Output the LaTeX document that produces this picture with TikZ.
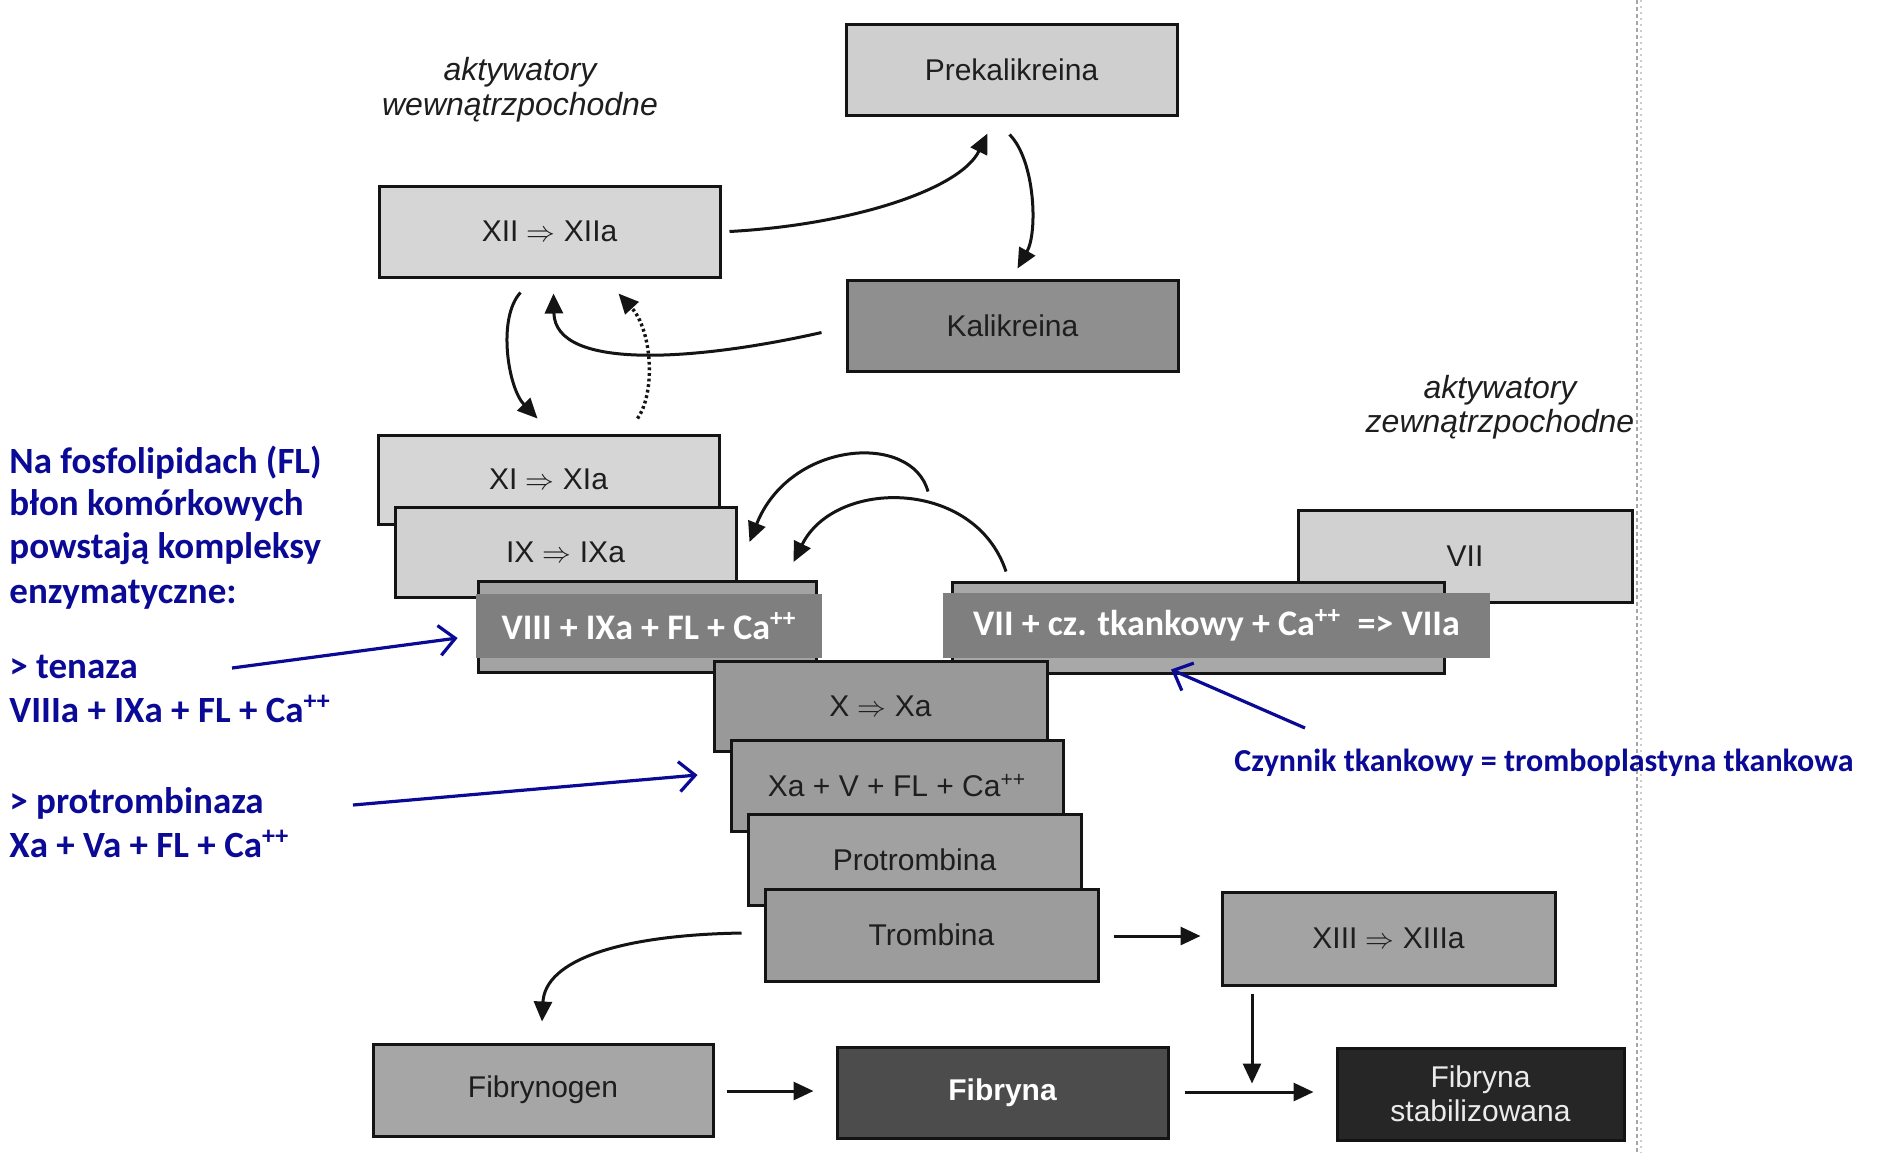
\documentclass[tikz,border=0pt]{standalone}
\usepackage{fontspec}
\setmainfont{Liberation Sans}
\newfontfamily\calibri{Carlito}
\usetikzlibrary{arrows.meta,calc}
\definecolor{navy}{RGB}{10,10,150}
\definecolor{ovgray}{RGB}{127,127,127}
\definecolor{inktext}{RGB}{30,30,30}
\begin{document}
\begin{tikzpicture}[x=0.5pt,y=-0.5pt,
  dim/.style 2 args={minimum width=#1*0.5pt, minimum height=#2*0.5pt},
  box/.style={draw=black!92, line width=1.5pt, inner sep=0pt, text=inktext,
              font=\fontsize{15pt}{18pt}\selectfont},
  ovl/.style={fill=ovgray, inner sep=0pt, text=white,
              font=\calibri\bfseries\fontsize{18pt}{21pt}\selectfont},
  itlabel/.style={anchor=base, inner sep=0pt, text=inktext,
              font=\itshape\fontsize{16pt}{19pt}\selectfont},
  btxt/.style={anchor=base west, inner sep=0pt, text=navy,
              font=\calibri\bfseries\fontsize{18.5pt}{22pt}\selectfont},
  arr/.style={draw=black!92, line width=1.5pt, -{Triangle[length=10pt,width=9pt]}},
  dotarr/.style={arr, line width=1.7pt, dash pattern=on 1.4pt off 1.4pt},
  barr/.style={draw=navy, line width=1.6pt, -{Straight Barb[length=8pt,width=15pt]}}]

\useasboundingbox (0,0) rectangle (1883,1153);
\fill[white] (0,0) rectangle (1883,1153);

% edge of the scanned sheet
\draw[black!35, line width=1.2pt, dash pattern=on 2pt off 1.5pt] (1637,0) -- (1637,1153);
\draw[black!20, line width=0.8pt, dash pattern=on 1pt off 2pt] (1641,0) -- (1641,1153);

% side labels
\node[itlabel] (intA) at (520,80) {aktywatory};
\node[itlabel] (intB) at (520,115) {wewnątrzpochodne};
\node[itlabel] (extA) at (1500,398) {aktywatory};
\node[itlabel] (extB) at (1500,432) {zewnątrzpochodne};

% contact pathway
\node[box, dim={331}{91}, fill=black!19] (Prek) at (1011.5,69.5) {Prekalikreina};
\node[box, dim={341}{91}, fill=black!16] (XII) at (549.5,231.5) {XII $\Rightarrow$ XIIa};
\node[box, dim={331}{91}, fill=black!44] (Kalik) at (1012.5,325.5) {Kalikreina};

\node[box, dim={341}{89}, fill=black!16] (XI) at (548.5,479.5) {XI $\Rightarrow$ XIa};
\node[box, dim={341}{90}, fill=black!18] (IX) at (565.5,552) {IX $\Rightarrow$ IXa};
\node[box, dim={338}{91}, fill=black!36] (VIIIh) at (647,626.5) {};
\node[ovl, dim={346}{64}] (VIIIo) at (649,626) {VIII + IXa + FL + Ca\textsuperscript{++}};

% extrinsic pathway
\node[box, dim={334}{92}, fill=black!18] (VII) at (1465,556) {VII};
\node[box, dim={492}{91}, fill=black!34] (VIIh) at (1198,627.5) {};
\node[ovl, dim={547}{65}] (VIIo) at (1216.5,625.5) {VII + cz. tkankowy + Ca\textsuperscript{++}\ \ => VIIa};

% common pathway
\node[box, dim={333}{90}, fill=black!40] (X) at (880.5,706) {X $\Rightarrow$ Xa};
\node[box, dim={332}{91}, fill=black!39] (XaV) at (897,785.5) {Xa + V + FL + Ca\textsuperscript{++}};
\node[box, dim={333}{91}, fill=black!37] (Protr) at (914.5,859.5) {Protrombina};
\node[box, dim={333}{92}, fill=black!39] (Tromb) at (931.5,935) {Trombina};
\node[box, dim={333}{93}, fill=black!36] (XIII) at (1388.5,938.5) {XIII $\Rightarrow$ XIIIa};
\node[box, dim={340}{92}, fill=black!35] (Fgen) at (543,1090) {Fibrynogen};
\node[box, dim={331}{91}, fill=black!70, text=white, font=\bfseries\fontsize{15pt}{18pt}\selectfont] (Fib) at (1002.5,1092.5) {Fibryna};
\node[box, dim={287}{92}, fill=black!85, text=black!8, align=center,
      font=\fontsize{15pt}{17pt}\selectfont] (Stab) at (1480.5,1094) {Fibryna\\stabilizowana};

% activation arrows
\draw[arr] ($(XII.east)+(8,0)$) .. controls (850,225) and (960,190) .. ($(Prek.south)+(-24,17)$);
\draw[arr] ($(Prek.south)+(-2,18)$) .. controls (1035,160) and (1038,232) .. ($(Kalik.north)+(5,-10)$);
\draw[arr] ($(Kalik.west)+(-24,7)$) .. controls (700,360) and (555,372) .. ($(XII.south)+(4,15)$);
\draw[arr] ($(XII.south)+(-29,14)$) .. controls (497,318) and (508,388) .. ($(XI.north)+(-11,-15)$);
\draw[dotarr] ($(XI.north)+(89,-15)$) .. controls (656,392) and (652,330) .. ($(XII.south)+(69,15)$);
\draw[arr] ($(VIIh.north)+(-270,-89)$) .. controls (912,432) and (790,440) .. ($(IX.east)+(12,-10)$);
\draw[arr] ($(VIIh.north)+(-192,-9)$) .. controls (975,478) and (835,478) .. ($(IX.east)+(56,10)$);

% thrombin and fibrin
\draw[arr] ($(Tromb.west)+(-22,-2)$) .. controls (620,935) and (545,960) .. ($(Fgen.north)+(-1,-21)$);
\draw[arr] ($(Tromb.east)+(14,1)$) -- ($(XIII.west)+(-20,-2.5)$);
\draw[arr] ($(XIII.south)+(-136.5,7)$) -- ($(XIII.south)+(-136.5,97)$);
\draw[arr] ($(Fgen.east)+(12,1)$) -- ($(Fib.west)+(-22,-1.5)$);
\draw[arr] ($(Fib.east)+(15,-0.5)$) -- ($(Stab.west)+(-22,-2)$);

% notes on the left
\node[btxt] (n1) at (9,473) {Na fosfolipidach (FL)};
\node[btxt] (n2) at (9,515) {błon komórkowych};
\node[btxt] (n3) at (9,558) {powstają kompleksy};
\node[btxt] (n4) at (9,603) {enzymatyczne:};
\node[btxt] (ten) at (9,678) {> tenaza};
\node[btxt] (tenf) at (9,722) {VIIIa + IXa + FL + Ca\textsuperscript{++}};
\node[btxt] (pro) at (9,813) {> protrombinaza};
\node[btxt] (prof) at (9,857) {Xa + Va + FL + Ca\textsuperscript{++}};
\node[btxt, font=\calibri\bfseries\fontsize{16pt}{19pt}\selectfont] (czyn) at (1234,771) {Czynnik tkankowy = tromboplastyna tkankowa};

\draw[barr] ($(ten.base west)+(223,-10)$) -- ($(VIIIo.west)+(-18,12)$);
\draw[barr] ($(pro.base west)+(344,-8)$) -- ($(XaV.west)+(-32,-10.5)$);
\draw[barr] ($(czyn.base west)+(71,-43)$) -- ($(VIIh.south)+(-27,-5)$);
\end{tikzpicture}
\end{document}
